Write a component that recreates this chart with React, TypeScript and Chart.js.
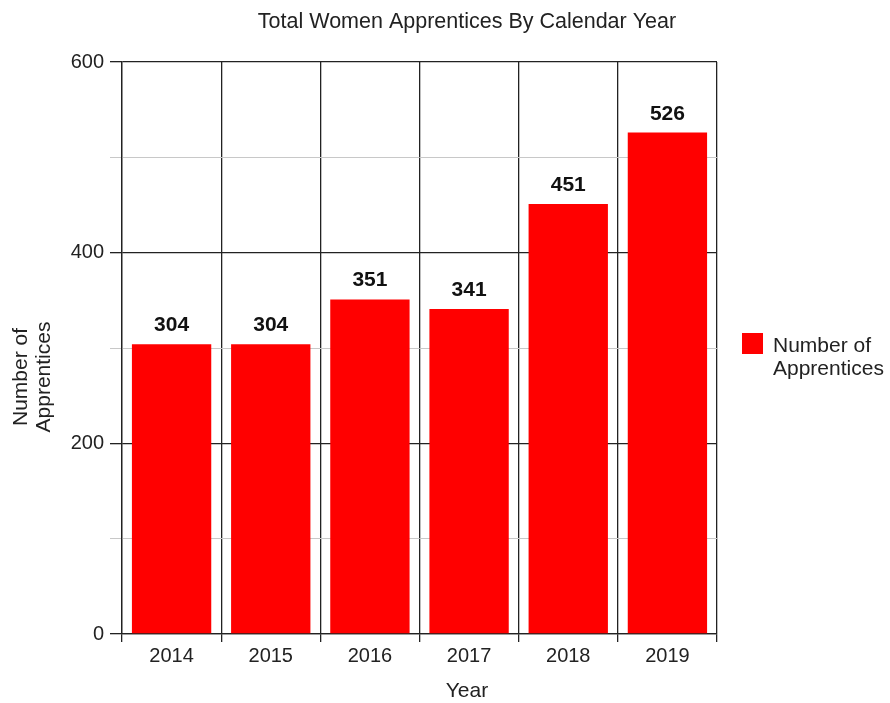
import React, { useEffect, useRef } from "react";
import { Chart, registerables } from "chart.js";

Chart.register(...registerables);

const categories = ["2014", "2015", "2016", "2017", "2018", "2019"];
const apprentices = [304, 304, 351, 341, 451, 526];
const majorTicks = [0, 200, 400, 600];
const seriesLabel = ["Number of", "Apprentices"];
const chartTitle = "Total Women Apprentices By Calendar Year";
const xTitle = "Year";
const yTitle = ["Number of", "Apprentices"];

const FONT = "'Liberation Sans', Arial, Helvetica, sans-serif";
const TEXT = "#222";
const BAR = "#ff0000";

const overlay = {
  id: "overlay",
  afterDatasetsDraw(chart: any) {
    const ctx = chart.ctx as CanvasRenderingContext2D;
    const meta = chart.getDatasetMeta(0);
    ctx.save();
    // value labels
    ctx.font = `bold 21px ${FONT}`;
    ctx.fillStyle = "#111";
    ctx.textAlign = "center";
    ctx.textBaseline = "alphabetic";
    meta.data.forEach((bar: any, i: number) => {
      ctx.fillText(String(apprentices[i]), bar.x, bar.y - 13);
    });
    // title
    ctx.font = `21.5px ${FONT}`;
    ctx.fillStyle = TEXT;
    ctx.fillText(chartTitle, 467, 28);
    // x title
    ctx.font = `21px ${FONT}`;
    ctx.fillText(xTitle, 467, 697);
    // y title (rotated)
    yTitle.forEach((line, i) => {
      ctx.save();
      ctx.translate(27 + i * 23, 377);
      ctx.rotate(-Math.PI / 2);
      ctx.textAlign = "center";
      ctx.fillText(line, 0, 0);
      ctx.restore();
    });
    // legend
    ctx.fillStyle = BAR;
    ctx.fillRect(742, 333, 21, 21);
    ctx.fillStyle = TEXT;
    ctx.textAlign = "left";
    seriesLabel.forEach((line, i) => ctx.fillText(line, 773, 352 + i * 23));
    ctx.restore();
  },
};

export default function App() {
  const ref = useRef<HTMLCanvasElement>(null);
  useEffect(() => {
    if (!ref.current) return;
    const chart = new Chart(ref.current, {
      type: "bar",
      data: {
        labels: categories,
        datasets: [
          {
            label: seriesLabel.join(" "),
            data: apprentices,
            backgroundColor: BAR,
            borderWidth: 0,
            barPercentage: 0.8,
            categoryPercentage: 1,
          },
        ],
      },
      options: {
        responsive: false,
        animation: false,
        layout: { padding: { top: 62, right: 173, left: 0, bottom: 0 } },
        plugins: {
          legend: { display: false },
          title: { display: false },
          tooltip: { enabled: false },
        },
        scales: {
          x: {
            offset: true,
            grid: {
              offset: true,
              color: "#222",
              lineWidth: 1.3,
              tickLength: 8,
            },
            border: { color: "#222", width: 1.3 },
            ticks: {
              color: TEXT,
              font: { family: FONT, size: 20 },
              padding: 2,
            },
            afterFit(scale: any) {
              scale.height = 69;
            },
          },
          y: {
            min: 0,
            max: 600,
            grid: {
              color: (c: any) =>
                majorTicks.includes(c.tick?.value) ? "#222" : "#c8c8c8",
              lineWidth: (c: any) => (majorTicks.includes(c.tick?.value) ? 1.3 : 1),
              tickLength: 12,
            },
            border: { color: "#222", width: 1.3 },
            ticks: {
              stepSize: 100,
              color: TEXT,
              font: { family: FONT, size: 20 },
              padding: 6,
              callback: (v: any) => (majorTicks.includes(Number(v)) ? String(v) : ""),
            },
            afterFit(scale: any) {
              scale.width = 122;
            },
          },
        },
      },
      plugins: [overlay],
    });
    return () => chart.destroy();
  }, []);
  return (
    <div style={{ position: "absolute", left: 0, top: 0, width: 890, height: 703, background: "#fff" }}>
      <canvas ref={ref} width={890} height={703} style={{ display: "block" }} />
    </div>
  );
}
